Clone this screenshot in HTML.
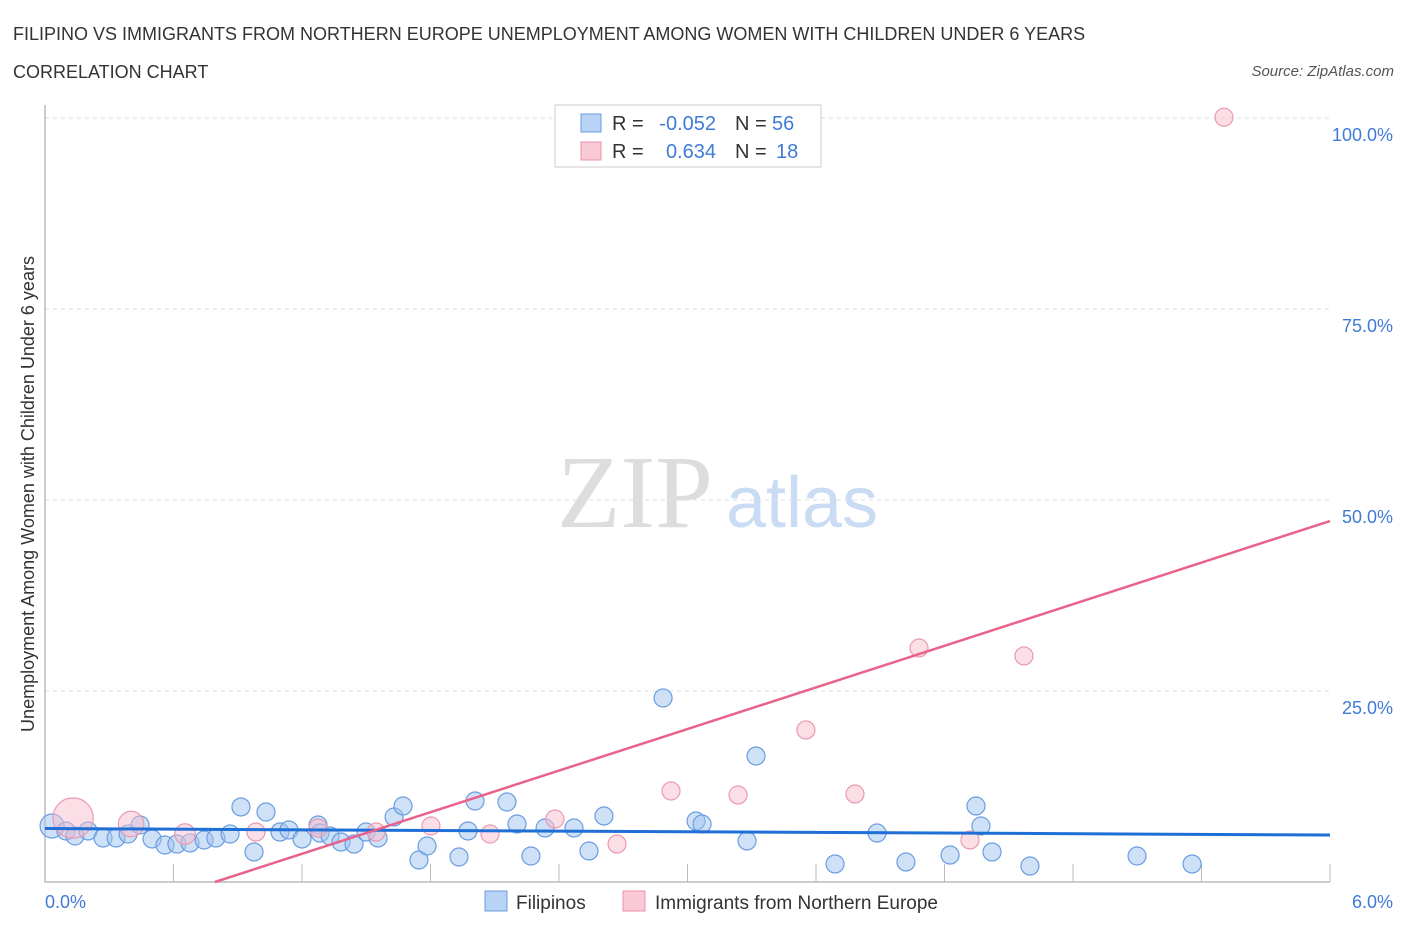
<!DOCTYPE html>
<html><head><meta charset="utf-8"><style>
body{margin:0;background:#fff;font-family:"Liberation Sans",sans-serif}
</style></head><body>
<svg id="c" width="1406" height="930" xmlns="http://www.w3.org/2000/svg" font-family="Liberation Sans, sans-serif">
<text x="13" y="40" font-size="18" fill="#333">FILIPINO VS IMMIGRANTS FROM NORTHERN EUROPE UNEMPLOYMENT AMONG WOMEN WITH CHILDREN UNDER 6 YEARS</text>
<text x="13" y="78" font-size="18" fill="#333">CORRELATION CHART</text>
<text x="1394" y="76" font-size="15" fill="#555" font-style="italic" text-anchor="end">Source: ZipAtlas.com</text>
<g>
<text x="635" y="527" font-size="104" fill="#ddd" font-family="Liberation Serif, serif" text-anchor="middle">ZIP</text>
<text x="802" y="527" font-size="72" fill="#c9dcf3" text-anchor="middle">atlas</text>
</g>
<g id="grid"></g><g id="axes"></g><g id="pts"></g><g id="lines"></g>
<text transform="translate(34,494) rotate(-90)" font-size="18" fill="#333" text-anchor="middle">Unemployment Among Women with Children Under 6 years</text>
<text x="45" y="908" font-size="18" fill="#3f7bd6">0.0%</text>
<text x="1393" y="908" font-size="18" fill="#3f7bd6" text-anchor="end">6.0%</text>
<g font-size="20">
<rect x="555" y="105" width="266" height="62" fill="#fff" stroke="#ccc"/>
<rect x="581" y="114" width="20" height="18" fill="#b8d3f5" stroke="#6a9de0"/>
<rect x="581" y="142" width="20" height="18" fill="#f9c9d6" stroke="#e990a8"/>
<text x="612" y="130" fill="#333">R =</text>
<text x="716" y="130" fill="#3f7bd6" text-anchor="end">-0.052</text>
<text x="735" y="130" fill="#333">N =</text>
<text x="772" y="130" fill="#3f7bd6">56</text>
<text x="612" y="158" fill="#333">R =</text>
<text x="716" y="158" fill="#3f7bd6" text-anchor="end">0.634</text>
<text x="735" y="158" fill="#333">N =</text>
<text x="776" y="158" fill="#3f7bd6">18</text>
</g>
<g>
<rect x="485" y="891" width="22" height="20" fill="#b8d3f5" stroke="#6a9de0"/>
<text x="516" y="909" font-size="19" fill="#333">Filipinos</text>
<rect x="623" y="891" width="22" height="20" fill="#f9c9d6" stroke="#e990a8"/>
<text x="655" y="909" font-size="19" fill="#333">Immigrants from Northern Europe</text>
</g>
</svg>
<script>
const blueX=[0.033,0.098,0.140,0.201,0.271,0.332,0.388,0.444,0.500,0.560,0.616,0.677,0.743,0.798,0.864,0.915,0.976,1.032,1.097,1.139,1.200,1.275,1.284,1.331,1.382,1.443,1.499,1.555,1.630,1.672,1.746,1.784,1.933,1.975,2.008,2.157,2.204,2.269,2.335,2.470,2.540,2.610,2.886,3.040,3.068,3.278,3.320,3.689,3.885,4.020,4.226,4.347,4.370,4.422,4.599,5.099,5.356];
const blueY=[7.33,6.68,6.02,6.68,5.76,5.76,6.28,7.46,5.63,4.84,4.97,5.11,5.50,5.76,6.28,9.82,3.93,9.16,6.54,6.81,5.63,7.46,6.41,6.02,5.24,4.97,6.54,5.76,8.51,9.95,2.88,4.71,3.27,6.68,10.60,10.47,7.59,3.40,7.07,7.07,4.06,8.64,24.09,7.98,7.59,5.37,16.49,2.36,6.41,2.62,3.53,9.95,7.33,3.93,2.09,3.40,2.36];
const pinkX=[0.131,0.402,0.654,0.985,1.275,1.546,1.802,2.078,2.381,2.671,2.923,3.236,3.553,3.782,4.081,4.319,4.571,5.505];
const pinkY=[8.38,7.59,6.28,6.54,7.07,6.54,7.33,6.28,8.25,4.97,11.91,11.39,19.90,11.52,30.63,5.50,29.59,100.1];
const pinkWeight=[5,2,1.3,1,1,1,1,1,1,1,1,1,1,1,1,1,1,1];
const blueTrend=[7.0,6.15];
const pinkTrend=[-7.2,47.25];
const yTicks=[25,50,75,100];
const NS='http://www.w3.org/2000/svg';
const X=v=>45+v/6*1285, Y=v=>882-v/25*191;
function mk(p,t,a){const e=document.createElementNS(NS,t);for(const k in a)e.setAttribute(k,a[k]);document.getElementById(p).appendChild(e);return e;}
yTicks.forEach(t=>{
 const g=mk('grid','line',{x1:45,x2:1330,y1:Y(t),y2:Y(t),stroke:'#ddd','stroke-dasharray':'4,4'});
 
 
 const l=mk('grid','text',{x:1393,y:Y(t)+23,'font-size':18,fill:'#3f7bd6','text-anchor':'end'});
 l.textContent=t.toFixed(1)+'%';
 
 
});
const ax=mk('axes','path',{d:'M45,105V882H1330',fill:'none',stroke:'#bbb','stroke-width':1.5});


for(let i=1;i<=10;i++){const t=mk('axes','line',{x1:X(i*0.6),x2:X(i*0.6),y1:864,y2:882,stroke:'#bbb'});
 
 }
blueX.forEach((x,i)=>{const c=mk('pts','circle',{cx:X(x),cy:Y(blueY[i]),r:i==0?12:9,fill:'rgba(160,195,240,0.5)',stroke:'#6a9de0','stroke-width':1.2});
 
 });
pinkX.forEach((x,i)=>{const c=mk('pts','circle',{cx:X(x),cy:Y(pinkY[i]),r:9*Math.sqrt(pinkWeight[i]),fill:'rgba(248,190,205,0.5)',stroke:'#eb9ab0','stroke-width':1.2});
 
 });
const bl=mk('lines','line',{x1:X(0),y1:Y(blueTrend[0]),x2:X(6),y2:Y(blueTrend[1]),stroke:'#1f6fd6','stroke-width':3});


const x0=-pinkTrend[0]/((pinkTrend[1]-pinkTrend[0])/6);
const pl=mk('lines','line',{x1:X(x0),y1:Y(0),x2:X(6),y2:Y(pinkTrend[1]),stroke:'#e8628a','stroke-width':2.5});


</script>
</body></html>
